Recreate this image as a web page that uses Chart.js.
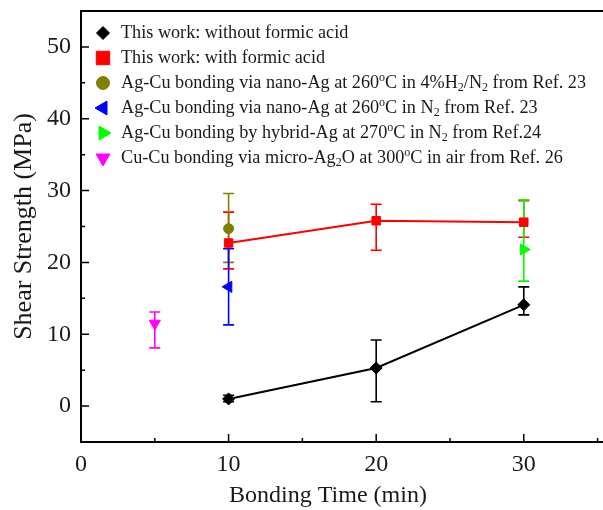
<!DOCTYPE html>
<html>
<head>
<meta charset="utf-8">
<script src="https://cdn.jsdelivr.net/npm/chart.js@4"></script>
<style>
  html, body { margin: 0; padding: 0; background: #fff; }
  #wrap { width: 603px; height: 510px; }
</style>
</head>
<body>
<div id="wrap"><canvas id="chart"></canvas></div>
<script>
// legend labels (^x = superscript, _x = subscript)
const seriesNames = [
  'This work: without formic acid',
  'This work: with formic acid',
  'Ag-Cu bonding via nano-Ag at 260^oC in 4%H_2/N_2 from Ref. 23',
  'Ag-Cu bonding via nano-Ag at 260^oC in N_2 from Ref. 23',
  'Ag-Cu bonding by hybrid-Ag at 270^oC in N_2 from Ref.24',
  'Cu-Cu bonding via micro-Ag_2O at 300^oC in air from Ref. 26'
]

// this work, no formic acid
const noAcidTime = [10, 20, 30]
const noAcidShear = [1.0, 5.3, 14.1]
const noAcidLow = [0.6, 0.6, 12.7]
const noAcidHigh = [1.5, 9.2, 16.6]

// this work, with formic acid
const acidTime = [10, 20, 30]
const acidShear = [22.7, 25.8, 25.6]
const acidLow = [19.1, 21.7, 23.5]
const acidHigh = [27.0, 28.1, 28.6]

// ref 23, 4%H2/N2
const ref23hTime = [10]
const ref23hShear = [24.7]
const ref23hLow = [20.0]
const ref23hHigh = [29.6]

// ref 23, N2
const ref23nTime = [10]
const ref23nShear = [16.6]
const ref23nLow = [11.3]
const ref23nHigh = [21.9]

// ref 24
const ref24Time = [30]
const ref24Shear = [21.8]
const ref24Low = [17.4]
const ref24High = [28.7]

// ref 26
const ref26Time = [5]
const ref26Shear = [11.5]
const ref26Low = [8.1]
const ref26High = [13.1]

const xTicks = [0, 10, 20, 30]
const xMinor = [5, 15, 25, 35]
const yTicks = [0, 10, 20, 30, 40, 50]
const yMinor = [-5, 5, 15, 25, 35, 45, 55]

const FONT = '"Liberation Serif", "Times New Roman", serif'

const plain = s => s.replace(/\^o/g, 'º').replace(/_2/g, '₂')

const pts = (xs, ys) => xs.map((x, i) => ({x: x, y: ys[i]}))

const makeSet = (i, xs, ys, lo, hi, color, style, radius, legendRadius, rotation, line) => ({
  label: plain(seriesNames[i]),
  rich: seriesNames[i],
  data: pts(xs, ys),
  errLow: lo,
  errHigh: hi,
  legendRadius: legendRadius,
  borderColor: color,
  backgroundColor: color,
  pointStyle: style,
  pointRadius: radius,
  pointRotation: rotation,
  pointBorderWidth: 1,
  showLine: line,
  borderWidth: 2
})

const datasets = [
  makeSet(0, noAcidTime, noAcidShear, noAcidLow, noAcidHigh, '#000000', 'rectRot', 6, 6.5, 0, true),
  makeSet(1, acidTime, acidShear, acidLow, acidHigh, '#ff0000', 'rect', 6, 9.5, 0, true),
  makeSet(2, ref23hTime, ref23hShear, ref23hLow, ref23hHigh, '#808000', 'circle', 5, 6.5, 0, false),
  makeSet(3, ref23nTime, ref23nShear, ref23nLow, ref23nHigh, '#0000ff', 'triangle', 6.5, 8, -90, false),
  makeSet(4, ref24Time, ref24Shear, ref24Low, ref24High, '#00ff00', 'triangle', 6.5, 8, 90, false),
  makeSet(5, ref26Time, ref26Shear, ref26Low, ref26High, '#ff00ff', 'triangle', 6.5, 8, 180, false)
]

function drawRich(ctx, str, x, y, size) {
  let i = 0
  ctx.textBaseline = 'middle'
  ctx.textAlign = 'left'
  while (i < str.length) {
    const ch = str[i]
    if ((ch === '^' || ch === '_') && i + 1 < str.length) {
      ctx.font = Math.round(size * 0.68) + 'px ' + FONT
      const dy = ch === '^' ? -size * 0.3 : size * 0.28
      ctx.fillText(str[i + 1], x, y + dy)
      x += ctx.measureText(str[i + 1]).width
      i += 2
    } else {
      let j = i
      while (j < str.length && str[j] !== '^' && str[j] !== '_') j++
      const run = str.slice(i, j)
      ctx.font = size + 'px ' + FONT
      ctx.fillText(run, x, y)
      x += ctx.measureText(run).width
      i = j
    }
  }
}

const errorBars = {
  id: 'errorBars',
  beforeDatasetsDraw(chart) {
    const ctx = chart.ctx
    const ys = chart.scales.y
    ctx.save()
    chart.data.datasets.forEach((ds, di) => {
      const meta = chart.getDatasetMeta(di)
      ctx.strokeStyle = ds.borderColor
      ctx.lineWidth = 1.6
      meta.data.forEach((pt, i) => {
        const top = ys.getPixelForValue(ds.errHigh[i])
        const bot = ys.getPixelForValue(ds.errLow[i])
        ctx.beginPath()
        ctx.moveTo(pt.x, top); ctx.lineTo(pt.x, bot)
        ctx.moveTo(pt.x - 5.5, top); ctx.lineTo(pt.x + 5.5, top)
        ctx.moveTo(pt.x - 5.5, bot); ctx.lineTo(pt.x + 5.5, bot)
        ctx.stroke()
      })
    })
    ctx.restore()
  }
}

const frame = {
  id: 'frame',
  afterDraw(chart) {
    const ctx = chart.ctx
    const a = chart.chartArea
    const xs = chart.scales.x, ys = chart.scales.y
    ctx.save()
    ctx.strokeStyle = '#000'
    ctx.lineWidth = 2
    // the right edge of the frame falls outside the picture
    ctx.beginPath()
    ctx.moveTo(chart.width, a.top); ctx.lineTo(a.left, a.top)
    ctx.lineTo(a.left, a.bottom); ctx.lineTo(chart.width, a.bottom)
    ctx.stroke()
    ctx.lineWidth = 1.5
    ctx.beginPath()
    xTicks.forEach(v => { const p = xs.getPixelForValue(v); ctx.moveTo(p, a.bottom); ctx.lineTo(p, a.bottom - 8) })
    xMinor.forEach(v => { const p = xs.getPixelForValue(v); if (p < a.right) { ctx.moveTo(p, a.bottom); ctx.lineTo(p, a.bottom - 4) } })
    yTicks.forEach(v => { const p = ys.getPixelForValue(v); ctx.moveTo(a.left - 1, p); ctx.lineTo(a.left + 8, p) })
    yMinor.forEach(v => { const p = ys.getPixelForValue(v); if (p > a.top && p < a.bottom) { ctx.moveTo(a.left, p); ctx.lineTo(a.left + 4, p) } })
    ctx.stroke()

    // x axis title
    ctx.fillStyle = '#1a1a1a'
    ctx.font = '24px ' + FONT
    ctx.textAlign = 'center'
    ctx.textBaseline = 'middle'
    ctx.fillText('Bonding Time (min)', 328, 496)

    // legend inside plot
    chart.data.datasets.forEach((ds, i) => {
      const y = 33 + i * 25
      ctx.fillStyle = ds.backgroundColor
      ctx.strokeStyle = ds.borderColor
      ctx.lineWidth = 1
      Chart.helpers.drawPoint(ctx, {
        pointStyle: ds.pointStyle, radius: ds.legendRadius,
        rotation: ds.pointRotation, borderWidth: 1
      }, 103, y)
      ctx.fillStyle = '#1a1a1a'
      drawRich(ctx, ds.rich, 121, y, 18.2)
    })
    ctx.restore()
  }
}

new Chart(document.getElementById('chart'), {
  type: 'scatter',
  data: { datasets: datasets },
  options: {
    responsive: true,
    maintainAspectRatio: false,
    animation: false,
    layout: { autoPadding: false, padding: { top: 11, right: 1, left: 0, bottom: 0 } },
    plugins: { legend: { display: false }, tooltip: { enabled: false } },
    scales: {
      x: {
        type: 'linear', min: 0, max: 35.3,
        afterFit: s => { s.height = 68; s.paddingLeft = 0; s.paddingRight = 0 },
        afterBuildTicks: s => { s.ticks = xTicks.map(v => ({value: v})) },
        grid: { display: false, drawTicks: false },
        border: { display: false },
        ticks: { color: '#1a1a1a', padding: 8, font: { family: FONT, size: 24 } }
      },
      y: {
        type: 'linear', min: -5, max: 55,
        afterFit: s => { s.width = 81; s.paddingTop = 0; s.paddingBottom = 0 },
        afterBuildTicks: s => { s.ticks = yTicks.map(v => ({value: v})) },
        grid: { display: false, drawTicks: false },
        border: { display: false },
        ticks: { color: '#1a1a1a', padding: 10, font: { family: FONT, size: 24 } },
        title: { display: true, text: 'Shear Strength (MPa)', color: '#1a1a1a',
                 padding: { top: 9, bottom: 0 }, font: { family: FONT, size: 26 } }
      }
    }
  },
  plugins: [errorBars, frame]
})
</script>
</body>
</html>
